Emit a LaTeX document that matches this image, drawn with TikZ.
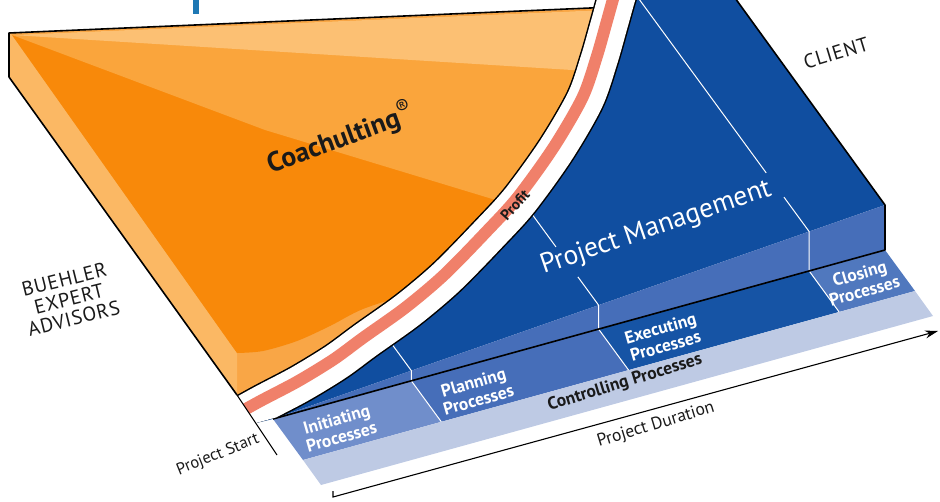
\documentclass[tikz,border=0pt]{standalone}
\usepackage{fontspec}
\setmainfont{PT Sans}
\usetikzlibrary{calc,arrows.meta}

\definecolor{oDark}{HTML}{F8890A}
\definecolor{oMid}{HTML}{FAA53C}
\definecolor{oLight}{HTML}{FCC073}
\definecolor{oSide}{HTML}{FBB864}
\definecolor{oFront}{HTML}{F9A646}
\definecolor{profitRed}{HTML}{F0806A}
\definecolor{bTop}{HTML}{104EA0}
\definecolor{bStep}{HTML}{466EB9}
\definecolor{bInit}{HTML}{708ECB}
\definecolor{bPlan}{HTML}{466EB9}
\definecolor{bExec}{HTML}{1654A5}
\definecolor{bClose}{HTML}{5078BE}
\definecolor{bCtrl}{HTML}{BECAE4}
\definecolor{titleBlue}{HTML}{1E78B4}
\definecolor{ink}{HTML}{1A1A1A}

% the boundary between the two shares (centre of the profit band)
\newcommand{\midcurve}{plot[smooth] coordinates {(622,-20) (616,0) (609,25) (599,60) (585,100) (556,150) (520,200) (490,233) (447,277) (408,310) (366,340) (336,362) (300,384) (262,404) (226,424)}}

\tikzset{
  edge/.style={line width=1.6pt, line join=round},
  divider/.style={white, line width=1pt},
  proclabel/.style={white, font=\fontsize{17.5}{18}\selectfont\bfseries, align=center, rotate=16, inner sep=0pt},
  sidelabel/.style={ink, font=\fontsize{20}{20}\selectfont\addfontfeatures{LetterSpace=4}, align=center, inner sep=0pt},
}

\begin{document}
\begin{tikzpicture}[x=1pt,y=-1pt]
	\useasboundingbox (0,0) rectangle (940,501);
	\clip (0,0) rectangle (940,501);
	
	%Ground plane points
	\coordinate (apex) at (273,419);
	\coordinate (baseR) at (885,250);
	\coordinate (topR) at (885,205);
	\coordinate (backR) at (722,-20);
	\coordinate (frontL) at ($(apex)+(30,41)$);
	\coordinate (frontR) at ($(baseR)+(30,41)$);
	\coordinate (ctrlL) at ($(apex)+(48,66)$);
	\coordinate (ctrlR) at ($(baseR)+(48,66)$);
	\foreach \t [count=\i] in {0.226,0.532,0.876} {
		\coordinate (b\i) at ($(apex)!\t!(baseR)$);
		\coordinate (f\i) at ($(apex)!\t!(topR)$);
		\coordinate (l\i) at ($(b\i)+(30,41)$);
	}
	
	%Title fragment
	\fill[titleBlue] (193,0) rectangle (199,14);
	
	%Orange slab
	\begin{scope}
		\clip \midcurve -- (-50,450) -- (-50,-50) -- cycle;
		\fill[oFront] (9,33) -- (700,4) -- (700,395) -- (237,395) -- (9,77) -- cycle;
		\fill[oSide] (9,33) -- (12,35) -- (237,353) -- (237,395) -- (9,77) -- cycle;
		\begin{scope}
			\clip (12,35) -- (700,6) -- (700,292) -- (415,292) -- plot[smooth] coordinates {(415,292) (363,309) (330,326) (297,341) (263,351) (237,353)} -- cycle;
			\fill[oDark] (0,0) rectangle (700,420);
			\fill[oMid] (12,35) -- (265,130) -- (700,262) -- (700,-20) -- cycle;
			\fill[oLight] (12,35) -- (700,78) -- (700,-20) -- cycle;
		\end{scope}
		\draw[edge] (660,5) -- (9,33) -- (9,77) -- (237,395);
	\end{scope}
	
	%Blue block
	\begin{scope}
		\clip \midcurve -- (1000,520) -- (1000,-50) -- cycle;
		\fill[bTop] (apex) -- (topR) -- (backR) -- (500,-20) -- (237,395) -- (256,423) -- cycle;
	\end{scope}
	\fill[bStep] (apex) -- (topR) -- (baseR) -- cycle;
	
	%Process strips
	\fill[bInit] (apex) -- (b1) -- (l1) -- (frontL) -- cycle;
	\fill[bPlan] (b1) -- (b2) -- (l2) -- (l1) -- cycle;
	\fill[bExec] (b2) -- (b3) -- (l3) -- (l2) -- cycle;
	\fill[bClose] (b3) -- (baseR) -- (frontR) -- (l3) -- cycle;
	\fill[bCtrl] (frontL) -- (frontR) -- (ctrlR) -- (ctrlL) -- cycle;
	
	%Phase dividers
	\foreach \i/\sa/\sb/\sc in {1/0.7/0.7/0.7, 2/0.69/1.42/2.45, 3/0.84/1.43/5.8} {
		\draw[divider] ($(f\i)-\sa*(30,41)$) -- (f\i) -- (b\i) -- (l\i);
		\draw[divider] ($(f\i)-\sb*(30,41)$) -- ($(f\i)-\sc*(30,41)$);
	}
	\draw[edge] (backR) -- (topR) -- (baseR) -- (apex);
	
	%Profit band
	\begin{scope}
		\clip (256,423) -- (-100,-94) -- (1000,-94) -- (1000,217) -- cycle;
		\draw[line width=40pt] \midcurve;
		\draw[white, line width=37pt] \midcurve;
		\draw[profitRed, line width=12pt, shift={(-2.5,-2.5)}] \midcurve;
	\end{scope}
	
	%Axes
	\coordinate (startTop) at (237,395);
	\coordinate (startBot) at (277,455);
	\draw[line width=1pt] (startTop) -- (startBot);
	\coordinate (durS) at (333,497);
	\coordinate (durE) at (938,331);
	\draw[line width=1.1pt, -{Stealth[length=13pt,width=8pt]}] ($(durS)+(0,-6)$) -- (durS) -- (durE);
	
	%Labels
	\node[ink, font=\fontsize{27.5}{28}\selectfont\bfseries, rotate=20, inner sep=0pt] (coach) at (340,138) {Coachulting\raisebox{10pt}{\fontsize{21}{21}\selectfont\mdseries ®}};
	\node[ink, font=\fontsize{15}{15}\selectfont\bfseries, rotate=48, inner sep=0pt] (profit) at (515,205) {Profit};
	\node[white, font=\fontsize{27.5}{28}\selectfont, rotate=19, inner sep=0pt] (pm) at (656,228) {Project Management};
	\node[sidelabel, rotate=14] (advisors) at (69,299) {BUEHLER\\EXPERT\\ADVISORS};
	\node[sidelabel, rotate=17] (client) at (836,53) {CLIENT};
	\node[proclabel] (init) at (339,428) {Initiating\\Processes};
	\node[proclabel] (plan) at (476,391) {Planning\\Processes};
	\node[proclabel] (exec) at (663,337) {Executing\\Processes};
	\node[proclabel] (close) at (862,282) {Closing\\Processes};
	\node[ink, font=\fontsize{17.5}{18}\selectfont\bfseries, rotate=17, inner sep=0pt] (ctrl) at (625,383) {Controlling Processes};
	\node[ink, font=\fontsize{17.5}{18}\selectfont, rotate=17, inner sep=0pt] (duration) at (656,425) {Project Duration};
	\node[ink, font=\fontsize{16.5}{17}\selectfont, rotate=22, inner sep=0pt] (start) at (218,455) {Project Start};
	
\end{tikzpicture}
\end{document}
